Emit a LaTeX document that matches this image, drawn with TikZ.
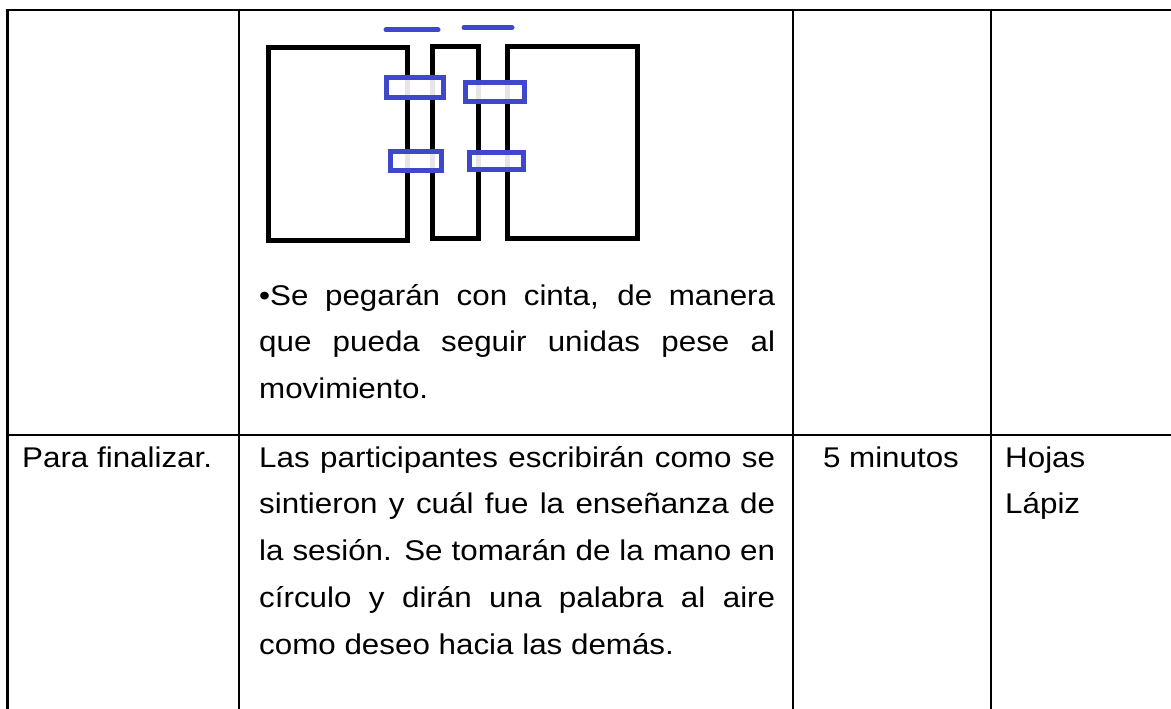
\documentclass[tikz,border=0pt]{standalone}
\usepackage{fontspec}
\setmainfont{Liberation Sans}[FakeStretch=1.1]
\usepackage{xcolor}
\usetikzlibrary{positioning}
\definecolor{tapeblue}{RGB}{63,72,204}

\begin{document}
\begin{tikzpicture}[x=1pt,y=-1pt,
        cell/.style={inner sep=0pt, anchor=base west, font=\fontsize{28.5}{46.75}\selectfont},
        grid/.style={line width=2.4pt},
        sheet/.style={line width=5pt},
        tape/.style={line width=5pt, draw=tapeblue, fill=white, fill opacity=0.9}]
        \useasboundingbox (0,0) rectangle (1171,709);

        % Table lines
        \draw[grid] (6.3,10) -- (1171,10);
        \draw[grid] (6.3,435) -- (1171,435);
        \foreach \x in {7.5, 239, 793, 991} {
                \draw[grid] (\x,8.8) -- (\x,709);
            }

        % Three sheets joined with tape
        \draw[sheet] (268,48) rectangle (407,240);
        \draw[sheet] (432,47) rectangle (478,238);
        \draw[sheet] (507,46.5) rectangle (637,238);
        \foreach \a/\b/\c/\d in {386/78/443/98, 465/83/524/102, 390/151/441/170, 469/152/523/169} {
                \draw[tape] (\a,\b) rectangle (\c,\d);
            }
        \draw[line width=5pt, tapeblue, line cap=round] (386,30) -- (438,30);
        \draw[line width=5pt, tapeblue, line cap=round] (464,27.5) -- (512,27.5);

        % First row text
        \node[cell, text width=516pt, align=justify] (pegar) at (259,305)
            {\textbullet Se pegarán con cinta, de manera\linebreak que pueda seguir unidas pese al\linebreak movimiento.};

        % Second row text
        \node[cell] (fin) at (22,467) {Para finalizar.};
        \node[cell, text width=516pt, align=justify] (escribir) at (259,467)
            {Las participantes escribirán como se\linebreak sintieron y cuál fue la enseñanza de\linebreak la sesión. Se tomarán de la mano en\linebreak círculo y dirán una palabra al aire\linebreak como deseo hacia las demás.};
        \node[cell, anchor=base] (tiempo) at (891,467) {5 minutos};
        \node[cell, text width=150pt, align=left] (material) at (1005,467) {Hojas\\Lápiz};
    \end{tikzpicture}
\end{document}
